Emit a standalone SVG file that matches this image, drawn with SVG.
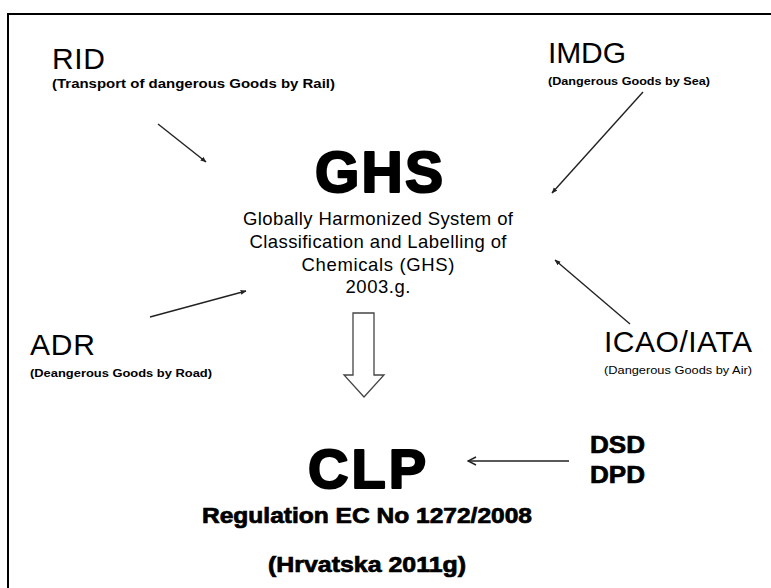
<svg xmlns="http://www.w3.org/2000/svg" width="771" height="588" viewBox="0 0 771 588">
<style>
.big{font-family:"Liberation Sans",Arial,sans-serif;font-size:30px;fill:#000}
.sub{font-family:"Liberation Sans",Arial,sans-serif;font-weight:bold;fill:#000}
.heavy{font-family:"Liberation Sans",Arial,sans-serif;font-weight:bold;fill:#000;stroke:#000;stroke-width:2.2;stroke-linejoin:round}
.desc{font-family:"Liberation Sans",Arial,sans-serif;font-size:18.5px;fill:#000;text-anchor:middle}
.bold{font-family:"Liberation Sans",Arial,sans-serif;font-weight:bold;fill:#000;stroke:#000;stroke-width:0.7}
.conn{stroke:#222;stroke-width:1.4;fill:none}
</style>
<defs>
<marker id="ah" viewBox="0 0 10 10" refX="9" refY="5" markerWidth="6" markerHeight="6" orient="auto" markerUnits="userSpaceOnUse">
<path d="M0,1 L10,5 L0,9 z" fill="#222"/>
</marker>
<marker id="open" viewBox="0 0 10 10" refX="9" refY="5" markerWidth="10" markerHeight="10" orient="auto" markerUnits="userSpaceOnUse">
<path d="M1,1 L9,5 L1,9" fill="none" stroke="#222" stroke-width="1.4"/>
</marker>
</defs>
<rect width="771" height="588" fill="#fff"/>
<path d="M8,600 L8,14 L780,14" fill="none" stroke="#000" stroke-width="2"/>

<g id="rid">
<text class="big" x="52" y="69" textLength="53">RID</text>
<text class="sub" x="52" y="88" font-size="13.5" textLength="283" lengthAdjust="spacingAndGlyphs">(Transport of dangerous Goods by Rail)</text>
</g>
<g id="imdg">
<text class="big" x="548" y="63" textLength="78">IMDG</text>
<text class="sub" x="548" y="85" font-size="11" textLength="162" lengthAdjust="spacingAndGlyphs">(Dangerous Goods by  Sea)</text>
</g>
<g id="ghs">
<text class="heavy" x="379" y="192" font-size="57" text-anchor="middle" textLength="128">GHS</text>
<text class="desc" x="378" y="225" textLength="270">Globally Harmonized System of</text>
<text class="desc" x="378" y="248" textLength="257">Classification and Labelling of</text>
<text class="desc" x="378" y="271" textLength="153">Chemicals (GHS)</text>
<text class="desc" x="378" y="293" textLength="65">2003.g.</text>
</g>
<g id="adr">
<text class="big" x="30" y="355" textLength="65">ADR</text>
<text class="sub" x="30" y="377" font-size="11" textLength="182" lengthAdjust="spacingAndGlyphs">(Deangerous Goods by Road)</text>
</g>
<g id="icao">
<text class="big" x="604" y="352" textLength="148">ICAO/IATA</text>
<text x="604" y="374" font-family="Liberation Sans, Arial, sans-serif" font-size="11" fill="#000" textLength="148" lengthAdjust="spacingAndGlyphs">(Dangerous Goods by Air)</text>
</g>
<g id="clp">
<text class="heavy" x="367" y="488" font-size="56" text-anchor="middle" textLength="118">CLP</text>
<text class="bold" x="367" y="523" font-size="21.5" text-anchor="middle" textLength="330" lengthAdjust="spacingAndGlyphs">Regulation EC No 1272/2008</text>
<text class="bold" x="367" y="572" font-size="21.5" text-anchor="middle" textLength="198" lengthAdjust="spacingAndGlyphs">(Hrvatska 2011g)</text>
</g>
<g id="dsd">
<text class="bold" x="590" y="453" font-size="24" textLength="55" lengthAdjust="spacingAndGlyphs">DSD</text>
<text class="bold" x="590" y="483" font-size="24" textLength="55" lengthAdjust="spacingAndGlyphs">DPD</text>
</g>
<g id="connectors">
<line class="conn" x1="158" y1="124" x2="206" y2="162" marker-end="url(#ah)"/>
<line class="conn" x1="643" y1="92" x2="552" y2="193" marker-end="url(#ah)"/>
<line class="conn" x1="150" y1="317" x2="246" y2="291" marker-end="url(#ah)"/>
<line class="conn" x1="630" y1="324" x2="555" y2="260" marker-end="url(#ah)"/>
<line class="conn" x1="569" y1="461" x2="468" y2="461" marker-end="url(#open)"/>
<path d="M353,313 L374,313 L374,375 L384,375 L364,397 L344,375 L353,375 Z" fill="#fff" stroke="#444" stroke-width="1.3"/>
</g>
</svg>
